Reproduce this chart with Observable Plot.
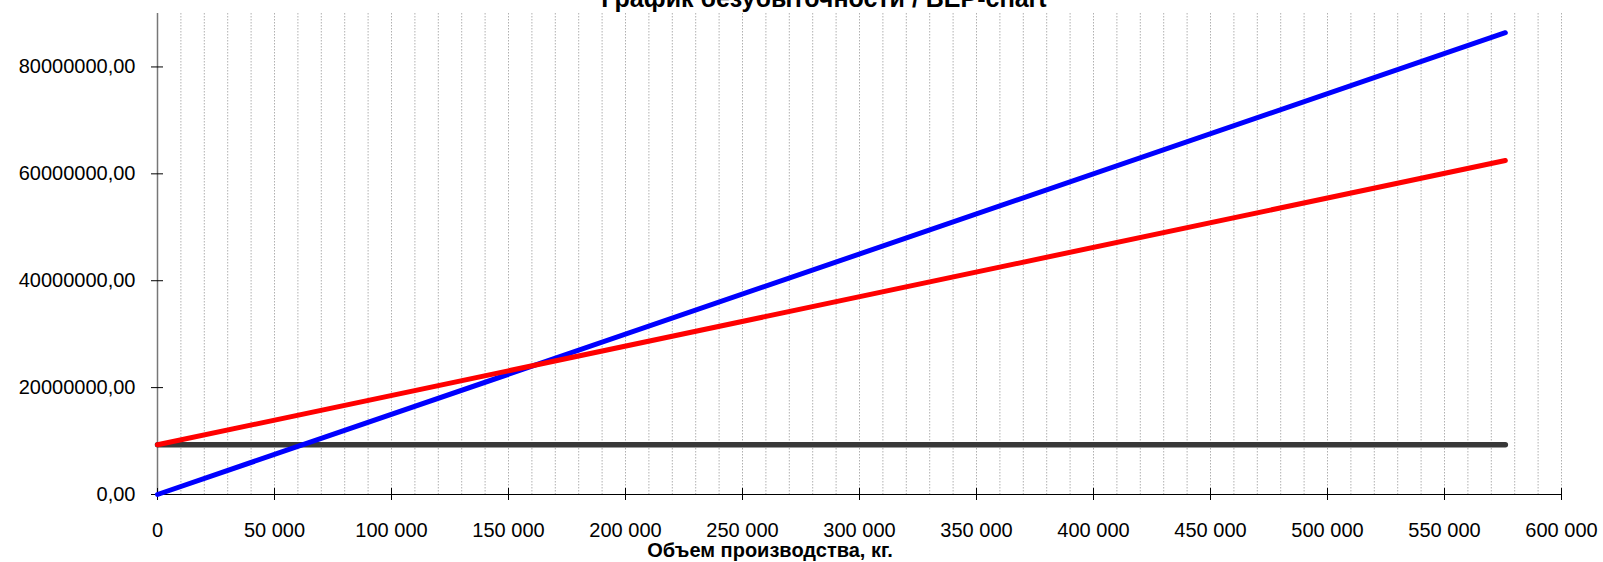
<!DOCTYPE html>
<html>
<head>
<meta charset="utf-8">
<script src="https://cdn.jsdelivr.net/npm/d3@7"></script>
<script src="https://cdn.jsdelivr.net/npm/@observablehq/plot@0.6"></script>
<style>
  html, body { margin: 0; padding: 0; background: #fff; }
  #wrap { position: relative; width: 1603px; height: 562px; overflow: hidden; font-family: "Liberation Sans", Arial, sans-serif; }
  #title { position: absolute; left: 0; width: 1648px; text-align: center; top: -14px; font-size: 25px; line-height: 25px; font-weight: bold; color: #000; white-space: nowrap; }
  #xlabel { position: absolute; left: 0; width: 1540px; text-align: center; top: 540px; font-size: 20px; line-height: 20px; font-weight: bold; color: #000; white-space: nowrap; }
  #chart { position: absolute; left: 0; top: 0; }
</style>
</head>
<body>
<div id="wrap">
  <div id="chart"></div>
  <div id="title">График безубыточности / BEP-chart</div>
  <div id="xlabel">Объем производства, кг.</div>
</div>
<script>
// Data
const volume = [0, 576000];                 // kg
const revenue = [0, 86400000];              // blue
const totalCost = [9300000, 62500000];      // red
const fixedCost = [9300000, 9300000];       // dark grey

// Tick labels
const xTicks = [0, 50000, 100000, 150000, 200000, 250000, 300000, 350000, 400000, 450000, 500000, 550000, 600000];
const yTicks = [0, 20000000, 40000000, 60000000, 80000000];
const gridStep = 10000;

const rows = (vals) => volume.map((v, i) => ({x: v, y: vals[i]}));
const revenueRows = rows(revenue);
const totalRows = rows(totalCost);
const fixedRows = rows(fixedCost);

const locale = d3.formatLocale({decimal: ",", thousands: " ", grouping: [3], currency: ["", ""]});
const fx = locale.format(",d");
const fy = (d) => d.toFixed(2).replace(".", ",");
const grid = d3.range(gridStep, 600000 + 1, gridStep);

const chart = Plot.plot({
  width: 1603,
  height: 562,
  marginLeft: 157,
  marginRight: 42,
  marginTop: 13,
  marginBottom: 68,
  style: {fontFamily: "Liberation Sans, Arial, sans-serif", fontSize: "20px", background: "#fff", color: "#000"},
  x: {domain: [0, 600000]},
  y: {domain: [0, 90000000]},
  marks: [
    Plot.gridX(grid, {stroke: "#b0b0b0", strokeOpacity: 1, strokeDasharray: "1.5,1.5", strokeWidth: 1}),
    Plot.ruleX([0], {stroke: "#777", strokeWidth: 1.5}),
    Plot.ruleY([0], {stroke: "#000", strokeWidth: 1.2, insetLeft: -6}),
    Plot.axisY(yTicks, {tickSize: 0, tickPadding: 22, tickFormat: fy, label: null, fontSize: 20}),
    Plot.axisY(yTicks, {tickSize: 12, dx: 6, tickFormat: () => "", label: null, stroke: "#000"}),
    Plot.axisX(xTicks, {tickSize: 0, tickPadding: 28, tickFormat: fx, label: null, fontSize: 20}),
    Plot.axisX(xTicks, {tickSize: 12, dy: -6, tickFormat: () => "", label: null, stroke: "#000"}),
    Plot.line(fixedRows, {x: "x", y: "y", stroke: "#383838", strokeWidth: 5.5, strokeLinecap: "round"}),
    Plot.line(revenueRows, {x: "x", y: "y", stroke: "#0000ff", strokeWidth: 5, strokeLinecap: "round"}),
    Plot.line(totalRows, {x: "x", y: "y", stroke: "#ff0000", strokeWidth: 5, strokeLinecap: "round"})
  ]
});
document.getElementById("chart").appendChild(chart);
</script>
</body>
</html>
